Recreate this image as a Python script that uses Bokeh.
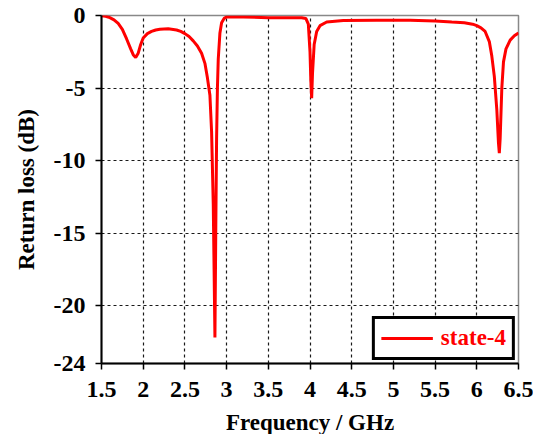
from bokeh.plotting import figure
from bokeh.models import FixedTicker, Range1d, Legend, LegendItem
from bokeh.embed import file_html
from bokeh.resources import INLINE

freq = [1.50, 1.55, 1.60, 1.65, 1.70, 1.75, 1.80, 1.85, 1.88, 1.91, 1.94, 1.97,
        2.00, 2.05, 2.10, 2.15, 2.20, 2.30, 2.40, 2.45, 2.50, 2.55, 2.60, 2.65,
        2.70, 2.74, 2.77, 2.80, 2.82, 2.84, 2.85, 2.86, 2.87, 2.88, 2.89, 2.90,
        2.92, 2.94, 2.97, 3.00, 3.20, 3.50, 3.80, 3.90, 3.95, 3.98, 4.00, 4.01,
        4.02, 4.03, 4.05, 4.08, 4.12, 4.20, 4.40, 4.80, 5.20, 5.50, 5.70, 5.85,
        5.95, 6.00, 6.05, 6.10, 6.15, 6.18, 6.21, 6.24, 6.26, 6.27, 6.28, 6.30,
        6.32, 6.35, 6.40, 6.45, 6.50]
state4 = [-0.02, -0.05, -0.15, -0.3, -0.55, -0.95, -1.6, -2.3, -2.7, -2.9, -2.6, -2.0,
          -1.55, -1.25, -1.1, -1.0, -0.95, -0.92, -1.0, -1.1, -1.25, -1.45, -1.75, -2.1,
          -2.6, -3.3, -4.3, -5.5, -8.0, -13.0, -17.5, -22.2, -15.0, -8.5, -5.0, -3.0,
          -1.2, -0.5, -0.2, -0.1, -0.1, -0.15, -0.15, -0.15, -0.2, -0.6, -2.5, -4.5,
          -5.7, -4.0, -2.0, -1.1, -0.7, -0.45, -0.35, -0.32, -0.33, -0.38, -0.45, -0.5,
          -0.6, -0.7, -0.85, -1.1, -1.8, -2.8, -4.2, -6.5, -8.8, -9.5, -8.5, -5.0,
          -3.2, -2.3, -1.7, -1.4, -1.2]

x_ticks = [1.5, 2, 2.5, 3, 3.5, 4, 4.5, 5, 5.5, 6, 6.5]
x_tick_labels = ["1.5", "2", "2.5", "3", "3.5", "4", "4.5", "5", "5.5", "6", "6.5"]
y_ticks = [0, -5, -10, -15, -20, -24]
y_tick_labels = ["0", "-5", "-10", "-15", "-20", "-24"]
x_grid = [2, 2.5, 3, 3.5, 4, 4.5, 5, 5.5, 6]
y_grid = [-5, -10, -15, -20]

FONT = "Times New Roman"

p = figure(width=533, height=426, frame_width=417, frame_height=348,
           min_border_left=101, min_border_right=15, min_border_top=15, min_border_bottom=63,
           x_range=Range1d(1.5, 6.5), y_range=Range1d(-24, 0),
           output_backend="svg", toolbar_location=None)

p.outline_line_color = "#888888"
p.outline_line_width = 1.5
p.outline_line_alpha = 1.0

r = p.line(freq, state4, line_color="#ff0000", line_width=3)

for ax in (p.xaxis[0], p.yaxis[0]):
    ax.axis_line_color = "black"
    ax.axis_line_width = 2
    ax.major_tick_line_color = "black"
    ax.major_tick_line_width = 1.5
    ax.major_tick_out = 6
    ax.major_tick_in = 0
    ax.minor_tick_line_color = None
    ax.major_label_text_font = FONT
    ax.major_label_text_font_style = "bold"
    ax.major_label_text_font_size = "24px"
    ax.major_label_text_color = "black"
    ax.axis_label_text_font = FONT
    ax.axis_label_text_font_style = "bold"
    ax.axis_label_text_font_size = "23px"
    ax.axis_label_text_color = "black"

p.xaxis[0].ticker = FixedTicker(ticks=x_ticks)
p.yaxis[0].ticker = FixedTicker(ticks=y_ticks)
p.xaxis[0].major_label_overrides = dict(zip(x_ticks, x_tick_labels))
p.yaxis[0].major_label_overrides = dict(zip(y_ticks, y_tick_labels))
p.xaxis[0].axis_label = "Frequency / GHz"
p.yaxis[0].axis_label = "Return loss (dB)"
p.xaxis[0].major_label_standoff = 12
p.yaxis[0].major_label_standoff = 10
p.xaxis[0].axis_label_standoff = 10
p.yaxis[0].axis_label_standoff = 12

p.xgrid[0].ticker = FixedTicker(ticks=x_grid)
p.ygrid[0].ticker = FixedTicker(ticks=y_grid)
for g in (p.xgrid[0], p.ygrid[0]):
    g.grid_line_color = "black"
    g.grid_line_dash = "3 3"
    g.grid_line_width = 1.2
    g.grid_line_alpha = 0.9

legend = Legend(items=[LegendItem(label="state-4", renderers=[r])],
                location="bottom_right", margin=3,
                border_line_color="black", border_line_width=3, border_line_alpha=1.0,
                label_text_color="#ff0000", label_text_font=FONT,
                label_text_font_style="bold", label_text_font_size="23px",
                glyph_width=52, glyph_height=20, label_standoff=8, padding=6,
                background_fill_color="white", background_fill_alpha=1.0)
p.add_layout(legend, "center")

open("out.html", "w").write(file_html(p, INLINE))
